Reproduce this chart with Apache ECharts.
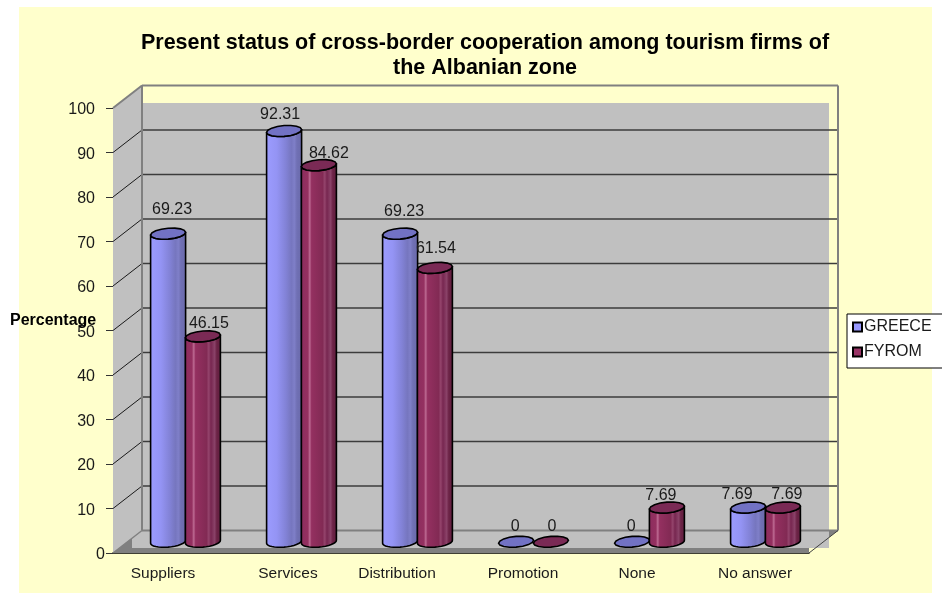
<!DOCTYPE html>
<html>
<head>
<meta charset="utf-8">
<title>Present status of cross-border cooperation</title>
<script src="https://cdn.jsdelivr.net/npm/echarts@6/dist/echarts.min.js"></script>
<style>
html, body { margin: 0; padding: 0; background: #fff; }
#chart { width: 942px; height: 594px; }
</style>
</head>
<body>
<div id="chart"></div>
<script>
// values
var categories = ['Suppliers', 'Services', 'Distribution', 'Promotion', 'None', 'No answer'];
var greece = [69.23, 92.31, 69.23, 0, 0, 7.69];
var fyrom = [46.15, 84.62, 61.54, 0, 7.69, 7.69];
var valueTicks = [10, 20, 30, 40, 50, 60, 70, 80, 90];

// the labels in the original are not centred on their marks, small shifts in px
var greeceLabelDx = [4, -4, 4, -1, -1, -11];
var greeceLabelDy = [-24, -16, -22, -15, -15, -13];
var fyromLabelDx = [6, 10, 1, 1, -6, 4];
var fyromLabelDy = [-13, -12, -19, -15, -12, -13];
var categoryDx = [-8, 1, -6, 4, 2, 4];

var FONT = '"Liberation Sans", Arial, sans-serif';
var DEPTH_X = 29;
var DEPTH_Y = -22.5;
var RX = 17.5;
var RY = 5.4;
var TILT = 0.08;

var blueFill = {
    type: 'linear', x: 0, y: 0, x2: 1, y2: 0,
    colorStops: [
        { offset: 0, color: '#9c9cff' }, { offset: 0.3, color: '#9494f4' },
        { offset: 0.55, color: '#8282d6' }, { offset: 0.7, color: '#7676bf' },
        { offset: 0.78, color: '#7f7fc8' }, { offset: 0.85, color: '#7070b4' },
        { offset: 1, color: '#6a6aaa' }
    ]
};
var maroonFill = {
    type: 'linear', x: 0, y: 0, x2: 1, y2: 0,
    colorStops: [
        { offset: 0, color: '#8c2d5e' }, { offset: 0.2, color: '#943060' },
        { offset: 0.25, color: '#bd6a92' }, { offset: 0.3, color: '#943060' },
        { offset: 0.6, color: '#822a54' }, { offset: 0.66, color: '#94446c' },
        { offset: 0.72, color: '#772650' }, { offset: 0.82, color: '#8a4268' },
        { offset: 0.88, color: '#6c2346' }, { offset: 1, color: '#5f1f3e' }
    ]
};

// part of an ellipse (from angle a to b), leaning up to the right
function arc(cx, cy, a, b) {
    var pts = [];
    for (var i = 0; i <= 16; i++) {
        var t = a + (b - a) * i / 16;
        var u = RX * Math.cos(t);
        pts.push([cx + u, cy + RY * Math.sin(t) - TILT * u]);
    }
    return pts;
}

function cylinder(side, fill, topColor, dxs, dys) {
    return function (params, api) {
        var i = api.value(0);
        var v = api.value(1);
        var base = api.coord([i, 0]);
        var top = api.coord([i, v]);
        var cx = base[0] + DEPTH_X / 2 + side * api.size([1, 0])[0] * 0.15;
        var y0 = base[1] + DEPTH_Y / 2;
        var y1 = top[1] + DEPTH_Y / 2;
        var children = [];
        if (v > 0) {
            // body: lower half of the base ellipse, then back along the top one
            children.push({
                type: 'polygon',
                shape: { points: arc(cx, y0, Math.PI, 0).concat(arc(cx, y1, 0, Math.PI)) },
                style: { fill: fill, stroke: '#000', lineWidth: 1.6, lineJoin: 'round' }
            });
        }
        children.push({
            type: 'polygon',
            shape: { points: arc(cx, y1, 0, Math.PI * 2) },
            style: { fill: topColor, stroke: '#000', lineWidth: 1.6 }
        });
        children.push({
            type: 'text',
            z2: 50,
            style: {
                text: String(v),
                x: cx + dxs[i],
                y: y1 + dys[i],
                align: 'center',
                verticalAlign: 'middle',
                fill: '#1a1a1a',
                font: '16px ' + FONT
            }
        });
        return { type: 'group', children: children };
    };
}

// the box behind the columns
function renderWalls(params, api) {
    var cs = params.coordSys;
    var left = cs.x, right = cs.x + cs.width;
    var y0 = api.coord([0, 0])[1];
    var y100 = api.coord([0, 100])[1];
    var backL = left + DEPTH_X, backR = right + DEPTH_X;
    var backBottom = y0 + DEPTH_Y, backTop = y100 + DEPTH_Y;
    var grey = '#c0c0c0', dark = '#808080';
    var kids = [];
    kids.push({
        type: 'rect',
        shape: { x: backL, y: y100 - 5, width: backR - 9 - backL, height: y0 - y100 },
        style: { fill: grey }
    });
    // side wall
    kids.push({
        type: 'polygon',
        shape: { points: [[left, y100], [backL, backTop], [backL, backBottom], [left, y0]] },
        style: { fill: grey }
    });
    // floor
    kids.push({
        type: 'polygon',
        shape: { points: [[left + 19, y0 - 16], [backL, backBottom], [backR - 9, backBottom], [backR - 9, y0 - 5], [left + 19, y0 - 5]] },
        style: { fill: grey }
    });
    kids.push({
        type: 'polygon',
        shape: { points: [[left, y0], [left + 19, y0 - 15], [left + 19, y0 - 5], [right, y0 - 5], [right, y0]] },
        style: { fill: dark }
    });
    kids.push({
        type: 'polygon',
        shape: { points: [[backR - 9, backBottom], [backR, backBottom], [backR - 9, backBottom + 7]] },
        style: { fill: dark }
    });
    function seg(x1, y1, x2, y2, color, w) {
        kids.push({
            type: 'line',
            shape: { x1: x1, y1: y1, x2: x2, y2: y2 },
            style: { stroke: color, lineWidth: w }
        });
    }
    valueTicks.forEach(function (t) {
        var y = api.coord([0, t])[1];
        seg(left, y, backL, y + DEPTH_Y, '#1a1a1a', 1);
        seg(backL, y + DEPTH_Y, backR, y + DEPTH_Y, '#3c3c3c', 1.4);
    });
    seg(left, y100, backL, backTop, dark, 2);
    seg(backL, backTop, backR, backTop, dark, 2);
    seg(backL, backTop, backL, backBottom, dark, 2);
    seg(backR, backTop, backR, backBottom, dark, 2);
    seg(backL, backBottom, backR, backBottom, dark, 2);
    seg(left, y0, backL, backBottom, dark, 1.5);
    seg(right, y0, backR, backBottom, '#404040', 1);
    return { type: 'group', children: kids };
}

function points(values) {
    return values.map(function (v, i) { return [i, v]; });
}

var richCategory = {};
categoryDx.forEach(function (d, i) {
    richCategory['c' + i] = {
        fontFamily: FONT,
        fontSize: 15.5,
        color: '#1a1a1a',
        padding: d < 0 ? [0, -2 * d, 0, 0] : [0, 0, 0, 2 * d]
    };
});

var myChart = echarts.init(document.getElementById('chart'), null, { renderer: 'canvas' });

var option = {
    animation: false,
    backgroundColor: '#fff',
    textStyle: { fontFamily: FONT },
    graphic: [{
        type: 'rect',
        z: -10,
        shape: { x: 19, y: 7, width: 913, height: 586 },
        style: { fill: '#ffffcc' }
    }],
    title: [{
        text: 'Present status of cross-border cooperation among tourism firms of\nthe Albanian zone',
        left: 480,
        top: 26,
        textAlign: 'center',
        textStyle: { fontFamily: FONT, fontWeight: 'bold', fontSize: 21.5, lineHeight: 25, color: '#000' }
    }, {
        text: 'Percentage',
        left: 5,
        top: 308,
        textStyle: { fontFamily: FONT, fontWeight: 'bold', fontSize: 16, color: '#000' }
    }],
    legend: {
        data: ['GREECE', 'FYROM'],
        orient: 'vertical',
        left: 847,
        top: 314,
        icon: 'rect',
        itemWidth: 9,
        itemHeight: 9,
        itemGap: 9,
        padding: [5, 12, 8, 5],
        backgroundColor: '#fff',
        borderColor: '#000',
        borderWidth: 1,
        borderRadius: 0,
        selectedMode: false,
        textStyle: { fontFamily: FONT, fontSize: 16, color: '#1a1a1a', padding: [0, 0, 0, -3] }
    },
    grid: { left: 113, right: 133, top: 108, bottom: 41 },
    xAxis: {
        type: 'category',
        data: categories,
        axisLine: { lineStyle: { color: '#000', width: 1.5 } },
        axisTick: { length: 7, alignWithLabel: false, lineStyle: { color: '#333' } },
        axisLabel: {
            margin: 13,
            interval: 0,
            formatter: function (v, i) { return '{c' + i + '|' + v + '}'; },
            rich: richCategory
        }
    },
    yAxis: {
        type: 'value',
        min: 0,
        max: 100,
        interval: 10,
        splitLine: { show: false },
        axisLine: { show: true, lineStyle: { color: '#000', width: 1 } },
        axisTick: { show: true, length: 7, lineStyle: { color: '#333' } },
        axisLabel: {
            margin: 8,
            fontFamily: FONT,
            fontSize: 16,
            color: '#1a1a1a',
            formatter: function (v) { return v === 0 ? '{z|0}' : '{n|' + v + '}'; },
            rich: {
                n: { fontFamily: FONT, fontSize: 16, color: '#1a1a1a', padding: [4, 10, 0, 0] },
                z: { fontFamily: FONT, fontSize: 16, color: '#1a1a1a', padding: [4, 0, 0, 0] }
            }
        }
    },
    series: [{
        type: 'custom',
        name: 'walls',
        silent: true,
        z: 1,
        clip: false,
        data: [[0, 0]],
        encode: { x: 0, y: 1 },
        renderItem: renderWalls
    }, {
        type: 'custom',
        name: 'GREECE',
        z: 3,
        clip: false,
        itemStyle: { color: '#9999ff', borderColor: '#000', borderWidth: 1 },
        data: points(greece),
        encode: { x: 0, y: 1 },
        renderItem: cylinder(-1, blueFill, '#7272c4', greeceLabelDx, greeceLabelDy)
    }, {
        type: 'custom',
        name: 'FYROM',
        z: 4,
        clip: false,
        itemStyle: { color: '#993366', borderColor: '#000', borderWidth: 1 },
        data: points(fyrom),
        encode: { x: 0, y: 1 },
        renderItem: cylinder(1, maroonFill, '#7a2a55', fyromLabelDx, fyromLabelDy)
    }]
};
myChart.setOption(option);
</script>
</body>
</html>
